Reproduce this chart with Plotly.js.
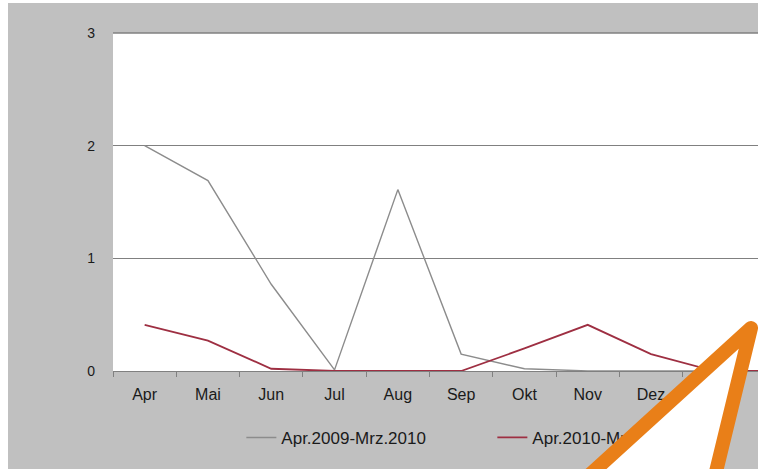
<!DOCTYPE html>
<html>
<head>
<meta charset="utf-8">
<script src="https://cdn.plot.ly/plotly-3.0.1.min.js"></script>
<style>
html,body{margin:0;padding:0;background:#fff;}
#wrap{position:relative;width:758px;height:469px;overflow:hidden;}
#chart{position:absolute;left:0;top:0;width:758px;height:469px;}
#arrow{position:absolute;left:0;top:0;pointer-events:none;}
</style>
</head>
<body>
<div id="wrap">
<div id="chart"></div>
<svg id="arrow" width="758" height="469" viewBox="0 0 758 469">
  <polygon points="584,480 751,328 714,480" fill="#ffffff" stroke="#e97f18" stroke-width="14" stroke-linejoin="round"/>
</svg>
</div>
<script>
var months = ["Apr","Mai","Jun","Jul","Aug","Sep","Okt","Nov","Dez","Jan","Feb"];
var seriesNames = ["Apr.2009-Mrz.2010","Apr.2010-Mrz.2011"];
var values2009 = [2.0, 1.69, 0.77, 0.01, 1.61, 0.15, 0.02, 0, 0, 0, 0];
var values2010 = [0.41, 0.27, 0.02, 0, 0, 0, 0.2, 0.41, 0.15, 0, 0];
var yTicks = [0, 1, 2, 3];

var traces = [
  {x: months, y: values2009, name: seriesNames[0], type: "scatter", mode: "lines",
   line: {color: "#8c8c8c", width: 1.4}},
  {x: months, y: values2010, name: seriesNames[1], type: "scatter", mode: "lines",
   line: {color: "#9e2f42", width: 1.8}}
];

var layout = {
  width: 758, height: 469,
  margin: {l: 113, r: 0, t: 33, b: 98, pad: 0},
  paper_bgcolor: "#c0c0c0",
  plot_bgcolor: "#ffffff",
  font: {family: "Arial, 'Liberation Sans', sans-serif", color: "#1a1a1a"},
  showlegend: true,
  legend: {orientation: "h", x: 0.199, xanchor: "left", y: -0.198, yanchor: "middle",
           bgcolor: "rgba(0,0,0,0)", font: {size: 17, color: "#1a1a1a"},
           entrywidth: 206, entrywidthmode: "pixels", tracegroupgap: 0},
  xaxis: {type: "category", range: [-0.5, 9.69], tickson: "boundaries",
          ticks: "outside", ticklen: 5, tickcolor: "#808080",
          showline: true, linecolor: "#808080", linewidth: 1,
          showgrid: false, zeroline: false, fixedrange: true,
          tickfont: {size: 16, color: "#1a1a1a"}, ticklabelstandoff: 9},
  yaxis: {range: [0, 3], tickvals: yTicks, ticktext: yTicks.map(String),
          showgrid: true, gridcolor: "#808080", gridwidth: 1,
          zeroline: false, showline: false, ticks: "",
          tickfont: {size: 14, color: "#1a1a1a"}, ticklabelstandoff: 17, fixedrange: true},
  shapes: [
    {type: "rect", xref: "paper", yref: "paper", x0: -113/645, x1: -105/645, y0: -98/338, y1: 371/338,
     fillcolor: "#ffffff", line: {width: 0}, layer: "above"},
    {type: "rect", xref: "paper", yref: "paper", x0: -113/645, x1: 1, y0: 368/338, y1: 371/338,
     fillcolor: "#ffffff", line: {width: 0}, layer: "above"},
    {type: "line", xref: "paper", yref: "paper", x0: 0, x1: 1, y0: 1, y1: 1,
     line: {color: "#808080", width: 1.5}, layer: "above"}
  ]
};

Plotly.newPlot("chart", traces, layout, {displayModeBar: false, staticPlot: true});
</script>
</body>
</html>
